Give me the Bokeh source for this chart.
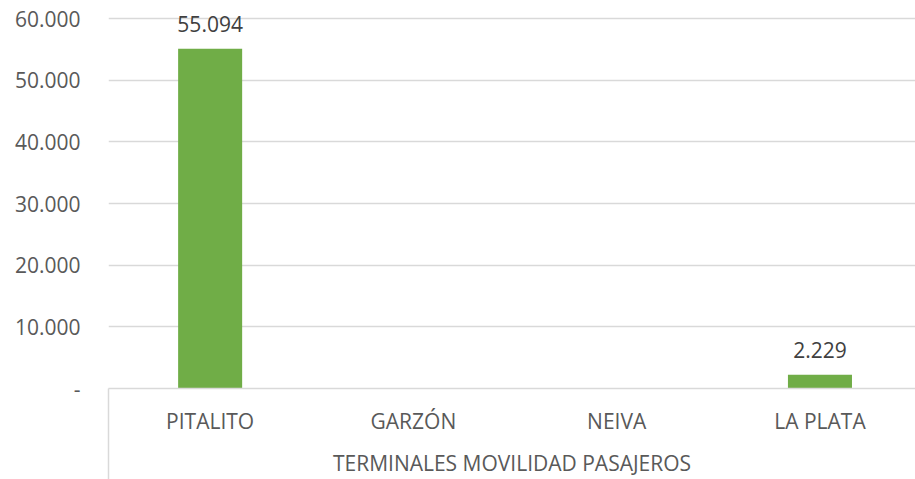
from bokeh.plotting import figure
from bokeh.models import ColumnDataSource, Range1d, FixedTicker
from bokeh.core.properties import value
from bokeh.embed import file_html
from bokeh.resources import INLINE

categories = ["PITALITO", "GARZÓN", "NEIVA", "LA PLATA"]
passengers = [55094, 0, 0, 2229]
y_ticks = [0, 10000, 20000, 30000, 40000, 50000, 60000]
y_tick_labels = ["-", "10.000", "20.000", "30.000", "40.000", "50.000", "60.000"]
axis_title = "TERMINALES MOVILIDAD PASAJEROS"

FONT = "Open Sans"
FS = "21px"

xs = [i + 0.5 for i in range(len(categories))]
src = ColumnDataSource(dict(x=xs, y=passengers, cat=categories))

lab_x = [x for x, v in zip(xs, passengers) if v != 0]
lab_y = [v for v in passengers if v != 0]
lab_t = [f"{v:,}".replace(",", ".") for v in passengers if v != 0]
lab_src = ColumnDataSource(dict(x=lab_x, y=lab_y, t=lab_t))

p = figure(width=915, height=479, output_backend="svg", toolbar_location=None,
           x_range=Range1d(0, 3.97), y_range=Range1d(0, 61300),
           min_border_left=108, min_border_right=0, min_border_top=10, min_border_bottom=91)
p.outline_line_color = None
p.background_fill_color = "white"
p.border_fill_color = "white"

p.vbar(x="x", top="y", width=0.315, source=src, color="#70ad47", line_color=None)

p.text(x="x", y="y", text="t", source=lab_src, text_align="center",
       text_baseline="alphabetic", y_offset=-25, text_font=value(FONT),
       text_font_size=FS, text_color="#404040")

# y axis
p.yaxis.ticker = FixedTicker(ticks=y_ticks)
p.yaxis.major_label_overrides = {t: l for t, l in zip(y_ticks, y_tick_labels)}
p.yaxis.axis_line_color = None
p.yaxis.major_tick_line_color = None
p.yaxis.minor_tick_line_color = None
p.yaxis.major_tick_out = 0
p.yaxis.minor_tick_out = 0
p.yaxis.major_label_standoff = 28
p.yaxis.major_label_text_font = FONT
p.yaxis.major_label_text_font_size = FS
p.yaxis.major_label_text_color = "#595959"

# x axis
p.xaxis.ticker = FixedTicker(ticks=xs, minor_ticks=[0])
p.xaxis.major_label_overrides = {x: c for x, c in zip(xs, categories)}
p.xaxis.axis_line_color = "#d9d9d9"
p.xaxis.axis_line_width = 1.5
p.xaxis.major_tick_line_color = None
p.xaxis.major_tick_out = 0
p.xaxis.major_tick_in = 0
p.xaxis.minor_tick_line_color = "#d9d9d9"
p.xaxis.minor_tick_line_width = 1.5
p.xaxis.minor_tick_out = 91
p.xaxis.minor_tick_in = 0
p.xaxis.major_label_standoff = -73
p.xaxis.major_label_text_font = FONT
p.xaxis.major_label_text_font_size = FS
p.xaxis.major_label_text_color = "#595959"
p.xaxis.axis_label = axis_title
p.xaxis.axis_label_text_font = FONT
p.xaxis.axis_label_text_font_size = FS
p.xaxis.axis_label_text_font_style = "normal"
p.xaxis.axis_label_text_color = "#595959"
p.xaxis.axis_label_standoff = 11

p.xgrid.grid_line_color = None
p.ygrid.grid_line_color = "#d9d9d9"
p.ygrid.grid_line_width = 1.5

open("out.html", "w").write(file_html(p, INLINE))
